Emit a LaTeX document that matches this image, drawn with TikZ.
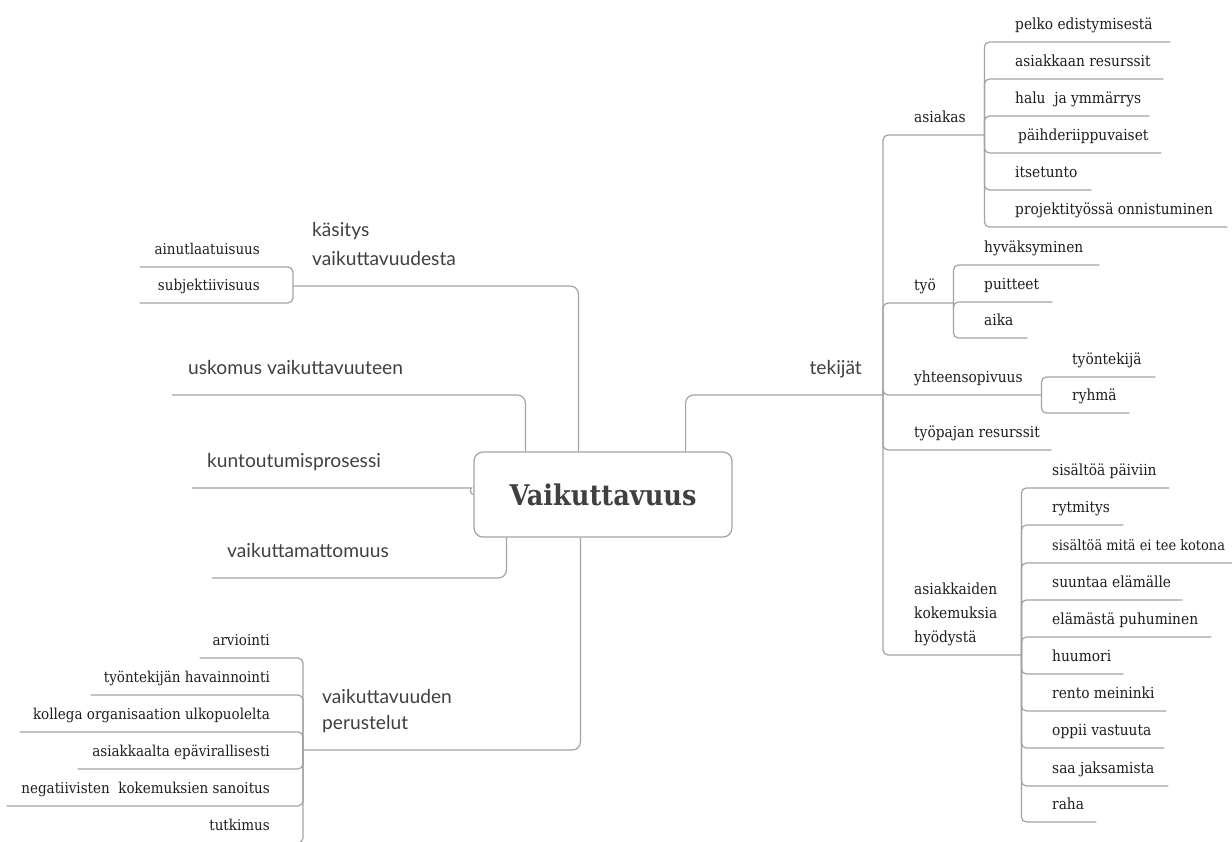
\documentclass[tikz,border=0pt]{standalone}
\usepackage{fontspec}
\setmainfont{DejaVu Serif Condensed}
\newfontfamily\topicfont{Lato}
\usetikzlibrary{calc}
\definecolor{linegray}{HTML}{A3A3A3}
\definecolor{leaftxt}{HTML}{1E1E1E}
\definecolor{toptxt}{HTML}{404040}
\tikzset{
  conn/.style={draw=linegray, line width=1.2pt, rounded corners=5pt},
  mconn/.style={draw=linegray, line width=1.2pt, rounded corners=8pt},
  rleaf/.style={anchor=south west, inner sep=0pt, text depth=12pt, text=leaftxt, font=\fontsize{15.3}{24}\selectfont},
  lleaf/.style={anchor=south east, inner sep=0pt, text depth=12pt, text=leaftxt, font=\fontsize{15}{24}\selectfont},
  topicL/.style={anchor=south west, inner sep=0pt, text depth=20pt, text=toptxt, font=\topicfont\fontsize{19.2}{29}\selectfont},
  topicR/.style={anchor=south east, inner sep=0pt, text depth=20pt, text=toptxt, font=\topicfont\fontsize{19.2}{29}\selectfont},
  rootbox/.style={draw=linegray, line width=1.2pt, rounded corners=9pt, fill=white,
    minimum width=258pt, minimum height=85pt, inner sep=0pt, text=toptxt,
    font=\bfseries\fontsize{28.5}{30}\selectfont}
}
\newcommand\RL[5]{\node[rleaf] (#1) at (#2,#3) {\makebox[#4pt][l]{\hspace{31pt}#5}};}
\newcommand\LL[5]{\node[lleaf] (#1) at (#2,#3) {\makebox[#4pt][r]{#5\hspace{33pt}}};}
\begin{document}
\begin{tikzpicture}[x=1pt,y=-1pt]
\clip (0,0) rectangle (1232,841);
\fill[white] (0,0) rectangle (1232,841);

% root
\node[rootbox] (root) at (603,494.5) {Vaikuttavuus};

% ---------- left main topics
\node[topicL] (kas) at (293,286) {\parbox[b]{285pt}{\raggedright\hspace*{19pt}käsitys\\\hspace*{19pt}vaikuttavuudesta}};
\node[topicL] (usk) at (172,395) {\makebox[353pt][l]{\hspace{16pt}uskomus vaikuttavuuteen}};
\node[topicL] (kun) at (192,488) {\makebox[274pt][l]{\hspace{15pt}kuntoutumisprosessi}};
\node[topicL] (vam) at (212,578) {\makebox[294pt][l]{\hspace{15pt}vaikuttamattomuus}};
\node[topicL, font=\topicfont\fontsize{19.2}{26}\selectfont] (per) at (303,750) {\parbox[b]{277pt}{\raggedright\hspace*{19pt}vaikuttavuuden\\\hspace*{19pt}perustelut}};

% ---------- right main topic
\node[topicR] (tek) at (883,395) {\makebox[197pt][r]{tekijät\hspace{21pt}}};

% main connectors
\draw[mconn] (kas.south east |- root.north) -- (kas.south east) -- (kas.south west);
\draw[mconn] (usk.south east |- root.north) -- (usk.south east) -- (usk.south west);
\draw[conn] (kun.south west) -- (kun.south east) to[out=0,in=180] (root.west);
\draw[mconn] (vam.south east |- root.south) -- (vam.south east) -- (vam.south west);
\draw[mconn] (per.south east |- root.south) -- (per.south east) -- (per.south west);
\draw[mconn] (tek.south west |- root.north) -- (tek.south west) -- (tek.south east);

% ---------- käsitys children
\LL{ain}{293}{267}{153}{ainutlaatuisuus}
\LL{sub}{293}{303}{153}{subjektiivisuus}
\foreach \c in {ain,sub} \draw[conn] (kas.south west) |- (\c.south west);

% ---------- perustelut children
\LL{arv}{303}{658}{103}{arviointi}
\LL{hav}{303}{695}{212}{työntekijän havainnointi}
\LL{kol}{303}{732}{283}{kollega organisaation ulkopuolelta}
\LL{epa}{303}{769}{225}{asiakkaalta epävirallisesti}
\LL{neg}{303}{806}{296}{negatiivisten\ \ kokemuksien sanoitus}
\LL{tut}{303}{843}{88}{tutkimus}
\foreach \c in {arv,hav,kol,epa,neg,tut} \draw[conn] (per.south west) |- (\c.south west);

% ---------- tekijät children
\RL{asi}{883}{135}{101}{asiakas}
\RL{tyo}{883}{303}{70}{työ}
\RL{yht}{883}{395}{158}{yhteensopivuus}
\RL{tpr}{883}{450}{168}{työpajan resurssit}
\node[rleaf] (akk) at (883,655) {\parbox[b]{138pt}{\raggedright\hspace*{31pt}asiakkaiden\\\hspace*{31pt}kokemuksia\\\hspace*{31pt}hyödystä}};
\foreach \c in {asi,tyo,yht,tpr,akk} \draw[conn] (tek.south east) |- (\c.south east);

% asiakas children
\RL{pel}{984}{42}{186}{pelko edistymisestä}
\RL{ares}{984}{79}{179}{asiakkaan resurssit}
\RL{hal}{984}{116}{165}{halu\ \ ja ymmärrys}
\RL{pai}{984}{153}{177}{\hspace{3pt}päihderiippuvaiset}
\RL{its}{984}{190}{107}{itsetunto}
\RL{pro}{984}{227}{243}{projektityössä onnistuminen}
\foreach \c in {pel,ares,hal,pai,its,pro} \draw[conn] (asi.south east) |- (\c.south east);

% työ children
\RL{hyv}{953}{265}{146}{hyväksyminen}
\RL{pui}{953}{302}{99}{puitteet}
\RL{aik}{953}{338}{74}{aika}
\foreach \c in {hyv,pui,aik} \draw[conn] (tyo.south east) |- (\c.south east);

% yhteensopivuus children
\RL{tte}{1041}{377}{114}{työntekijä}
\RL{ryh}{1041}{413}{88}{ryhmä}
\foreach \c in {tte,ryh} \draw[conn] (yht.south east) |- (\c.south east);

% asiakkaiden kokemuksia children
\RL{k1}{1021}{488}{148}{sisältöä päiviin}
\RL{k2}{1021}{525}{102}{rytmitys}
\RL{k3}{1021}{563}{211}{\fontsize{14.4}{24}\selectfont sisältöä mitä ei tee kotona}
\RL{k4}{1021}{600}{161}{suuntaa elämälle}
\RL{k5}{1021}{637}{190}{elämästä puhuminen}
\RL{k6}{1021}{674}{102}{huumori}
\RL{k7}{1021}{711}{145}{rento meininki}
\RL{k8}{1021}{748}{143}{oppii vastuuta}
\RL{k9}{1021}{786}{147}{saa jaksamista}
\RL{k10}{1021}{822}{75}{raha}
\foreach \c in {k1,k2,k3,k4,k5,k6,k7,k8,k9,k10} \draw[conn] (akk.south east) |- (\c.south east);
\end{tikzpicture}
\end{document}
